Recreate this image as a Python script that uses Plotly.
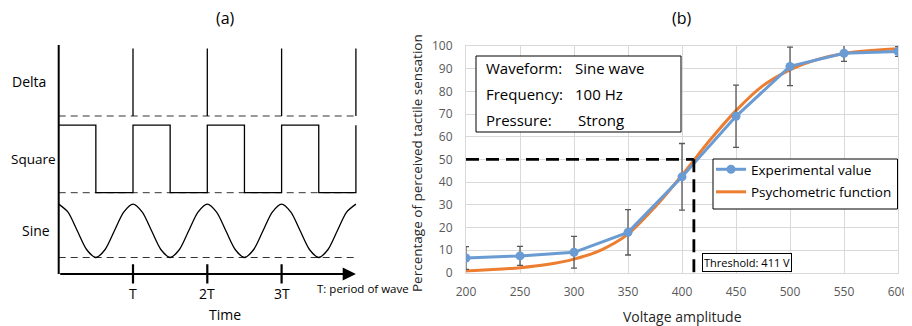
import plotly.graph_objects as go

# The page is shown with an 8px body margin, so the figure is 8px smaller and
# reference pixel positions are shifted by 8px.
OFF = 8
W, H = 912 - OFF, 326 - OFF
def fx(px): return (px - OFF) / W
def fy(py): return 1 - (py - OFF) / H

# ---------------- panel (b) data ----------------
voltage = [200, 250, 300, 350, 400, 450, 500, 550, 600]
experimental = [6.5, 7.4, 9.0, 17.8, 42.3, 69.0, 91.0, 96.8, 97.6]
exp_error = [5.0, 4.2, 7.0, 10.0, 14.7, 13.7, 8.5, 3.6, 2.2]

psy_voltage = [200, 225, 250, 275, 300, 325, 350, 375, 400, 425, 450, 475, 500, 525, 550, 575, 600]
psy_percent = [0.8, 1.4, 2.2, 3.6, 6.0, 10.0, 17.0, 29.0, 43.0, 58.0, 71.5, 82.5, 89.5, 94.0, 96.7, 98.0, 98.8]

threshold_v = 411
threshold_pct = 50
y_ticks = list(range(0, 101, 10))
x_ticks = list(range(200, 601, 50))

info_keys = ["Waveform:", "Frequency:", "Pressure:"]
info_vals = ["Sine wave", "100 Hz", "Strong"]

# ---------------- panel (a) schematic data ----------------
delta_t = [1, 2, 3, 4]
delta_base, delta_top = 6.9, 9.85
square_t = [0, 0.5, 0.5, 1, 1, 1.5, 1.5, 2, 2, 2.5, 2.5, 3, 3, 3.5, 3.5, 4, 4]
square_state = [1, 1, 0, 0, 1, 1, 0, 0, 1, 1, 0, 0, 1, 1, 0, 0, 1]
square_low, square_high = 3.55, 6.5
sine_t = [i * 0.125 for i in range(33)]
sine_state = [1, 0.85, 0.5, 0.15, 0, 0.15, 0.5, 0.85] * 4 + [1]
sine_low, sine_high = 0.72, 3.05
period_ticks = [1, 2, 3]
period_labels = ["T", "2T", "3T"]
wave_names = ["Delta", "Square", "Sine"]

FONT = "Open Sans"
fig = go.Figure()

# ---- panel (a) traces (x3/y3) ----
AX = dict(xaxis="x3", yaxis="y3", showlegend=False, hoverinfo="skip")
dash_base = dict(color="#333333", width=1, dash="7px,5px")
for base in [delta_base, square_low, sine_low]:
    fig.add_trace(go.Scatter(x=[0, 4], y=[base, base], mode="lines", line=dash_base, **AX))
dx, dy = [], []
for t in delta_t:
    dx += [t, t, None]
    dy += [delta_base, delta_top, None]
fig.add_trace(go.Scatter(x=dx, y=dy, mode="lines", line=dict(color="black", width=1.3), **AX))
fig.add_trace(go.Scatter(x=square_t,
                         y=[square_low + s * (square_high - square_low) for s in square_state],
                         mode="lines", line=dict(color="black", width=1.3), **AX))
fig.add_trace(go.Scatter(x=sine_t,
                         y=[sine_low + s * (sine_high - sine_low) for s in sine_state],
                         mode="lines", line=dict(color="black", width=1.3, shape="spline", smoothing=0.8), **AX))
fig.add_trace(go.Scatter(x=[0, 0], y=[0, 10], mode="lines", line=dict(color="black", width=2), **AX))
tx, ty = [], []
for t in period_ticks:
    tx += [t, t, None]
    ty += [0.43, -0.41, None]
fig.add_trace(go.Scatter(x=tx, y=ty, mode="lines", line=dict(color="black", width=2.2), **AX))

# ---- panel (b) traces ----
fig.add_trace(go.Scatter(x=psy_voltage, y=psy_percent, mode="lines", name="Psychometric function",
                         line=dict(color="#ED7D31", width=3, shape="spline", smoothing=0.8),
                         legendrank=2, legendgroup="psy"))
fig.add_trace(go.Scatter(x=voltage, y=experimental, mode="lines+markers", name="Experimental value",
                         line=dict(color="#6A9BD3", width=3),
                         marker=dict(color="#6A9BD3", size=9),
                         error_y=dict(type="data", array=exp_error, color="#595959", thickness=1.3, width=3),
                         legendrank=1, legendgroup="exp"))
thr_dash = dict(color="black", width=2.8, dash="13px,7px")
fig.add_trace(go.Scatter(x=[200, threshold_v], y=[threshold_pct, threshold_pct], mode="lines",
                         line=thr_dash, showlegend=False, hoverinfo="skip"))
fig.add_trace(go.Scatter(x=[threshold_v, threshold_v], y=[threshold_pct, 0], mode="lines",
                         line=thr_dash, showlegend=False, hoverinfo="skip"))

grid = "#d9d9d9"
tickfont = dict(family=FONT, size=12, color="#595959")
fig.update_layout(
    width=W, height=H,
    margin=dict(l=0, r=0, t=0, b=0, pad=0, autoexpand=False),
    paper_bgcolor="white", plot_bgcolor="white",
    font=dict(family=FONT, color="black"),
    xaxis=dict(domain=[fx(466), fx(898)], range=[200, 600], tickvals=x_ticks, automargin=False,
               showgrid=True, gridcolor=grid, gridwidth=1, zeroline=False,
               showline=True, linecolor=grid, mirror=True, ticks="",
               tickfont=tickfont, ticklabelstandoff=8),
    yaxis=dict(domain=[fy(272.7), fy(46)], range=[0, 100], tickvals=y_ticks, automargin=False,
               showgrid=True, gridcolor=grid, gridwidth=1, zeroline=False,
               showline=True, linecolor=grid, mirror=True, ticks="",
               tickfont=tickfont, ticklabelstandoff=10),
    xaxis3=dict(domain=[fx(58.7 - 0.6 * 74.3), fx(58.7 + 4.2 * 74.3)], range=[-0.6, 4.2],
                visible=False, fixedrange=True, automargin=False),
    yaxis3=dict(domain=[fy(274 + 1.5 * 22.9), fy(274 - 10.2 * 22.9)], range=[-1.5, 10.2],
                visible=False, fixedrange=True, automargin=False),
    legend=dict(x=fx(711), y=fy(154), xanchor="left", yanchor="top",
                bgcolor="rgba(0,0,0,0)", borderwidth=0,
                font=dict(family=FONT, size=13.5, color="black"),
                itemwidth=30, traceorder="grouped", tracegroupgap=2),
)

def A(text, px, py, size, xa="center", ya="middle", **kw):
    d = dict(text=text, x=fx(px), y=fy(py), xref="paper", yref="paper", showarrow=False,
             xanchor=xa, yanchor=ya, font=dict(size=size, **kw.pop("font", {})))
    d.update(kw)
    return d

ann = []
ann.append(A("(a)", 225, 18, 16))
ann.append(A("(b)", 682, 18, 16))
ann.append(A("Delta", 29.3, 82, 14))
ann.append(A("Square", 9, 159, 13.5, xa="left"))
ann.append(A("Sine", 36, 230, 14))
for t, lab in zip(period_ticks, period_labels):
    ann.append(dict(text=lab, x=t, y=-0.83, xref="x3", yref="y3", showarrow=False,
                    xanchor="center", yanchor="middle", font=dict(size=14)))
ann.append(A("T: period of wave", 315, 288.5, 11.5, xa="left"))
ann.append(A("Time", 225, 314.5, 14))
ann.append(dict(x=4.0, y=0, ax=0, ay=0, xref="x3", yref="y3", axref="x3", ayref="y3",
                text="", showarrow=True, arrowhead=2, arrowsize=1.2, arrowwidth=2.2, arrowcolor="black"))
ann.append(A("Voltage amplitude", 682, 316, 14, font=dict(color="#262626")))
ann.append(A("Percentage of perceived tactile sensation", 417, 163, 13.5, textangle=-90,
             font=dict(color="#262626")))
for k, v, py in zip(info_keys, info_vals, [68, 94, 120]):
    ann.append(A(k, 484, py, 15, xa="left"))
    ann.append(A(v, 573 if v != "Strong" else 576, py, 15, xa="left"))
ann.append(A(f"Threshold: {threshold_v} V", 702, 262.5, 11, xa="left",
             bordercolor="black", borderwidth=1, borderpad=1, bgcolor="white"))
fig.update_layout(annotations=ann)

# info box and legend box
fig.add_shape(type="rect", xref="paper", yref="paper", x0=fx(476), x1=fx(681), y0=fy(132), y1=fy(56),
              line=dict(color="black", width=1), fillcolor="white", layer="above")
fig.add_shape(type="rect", xref="paper", yref="paper", x0=fx(713), x1=fx(897.5), y0=fy(209), y1=fy(159),
              line=dict(color="black", width=1), fillcolor="white", layer="above")

fig.write_html("out.html")
